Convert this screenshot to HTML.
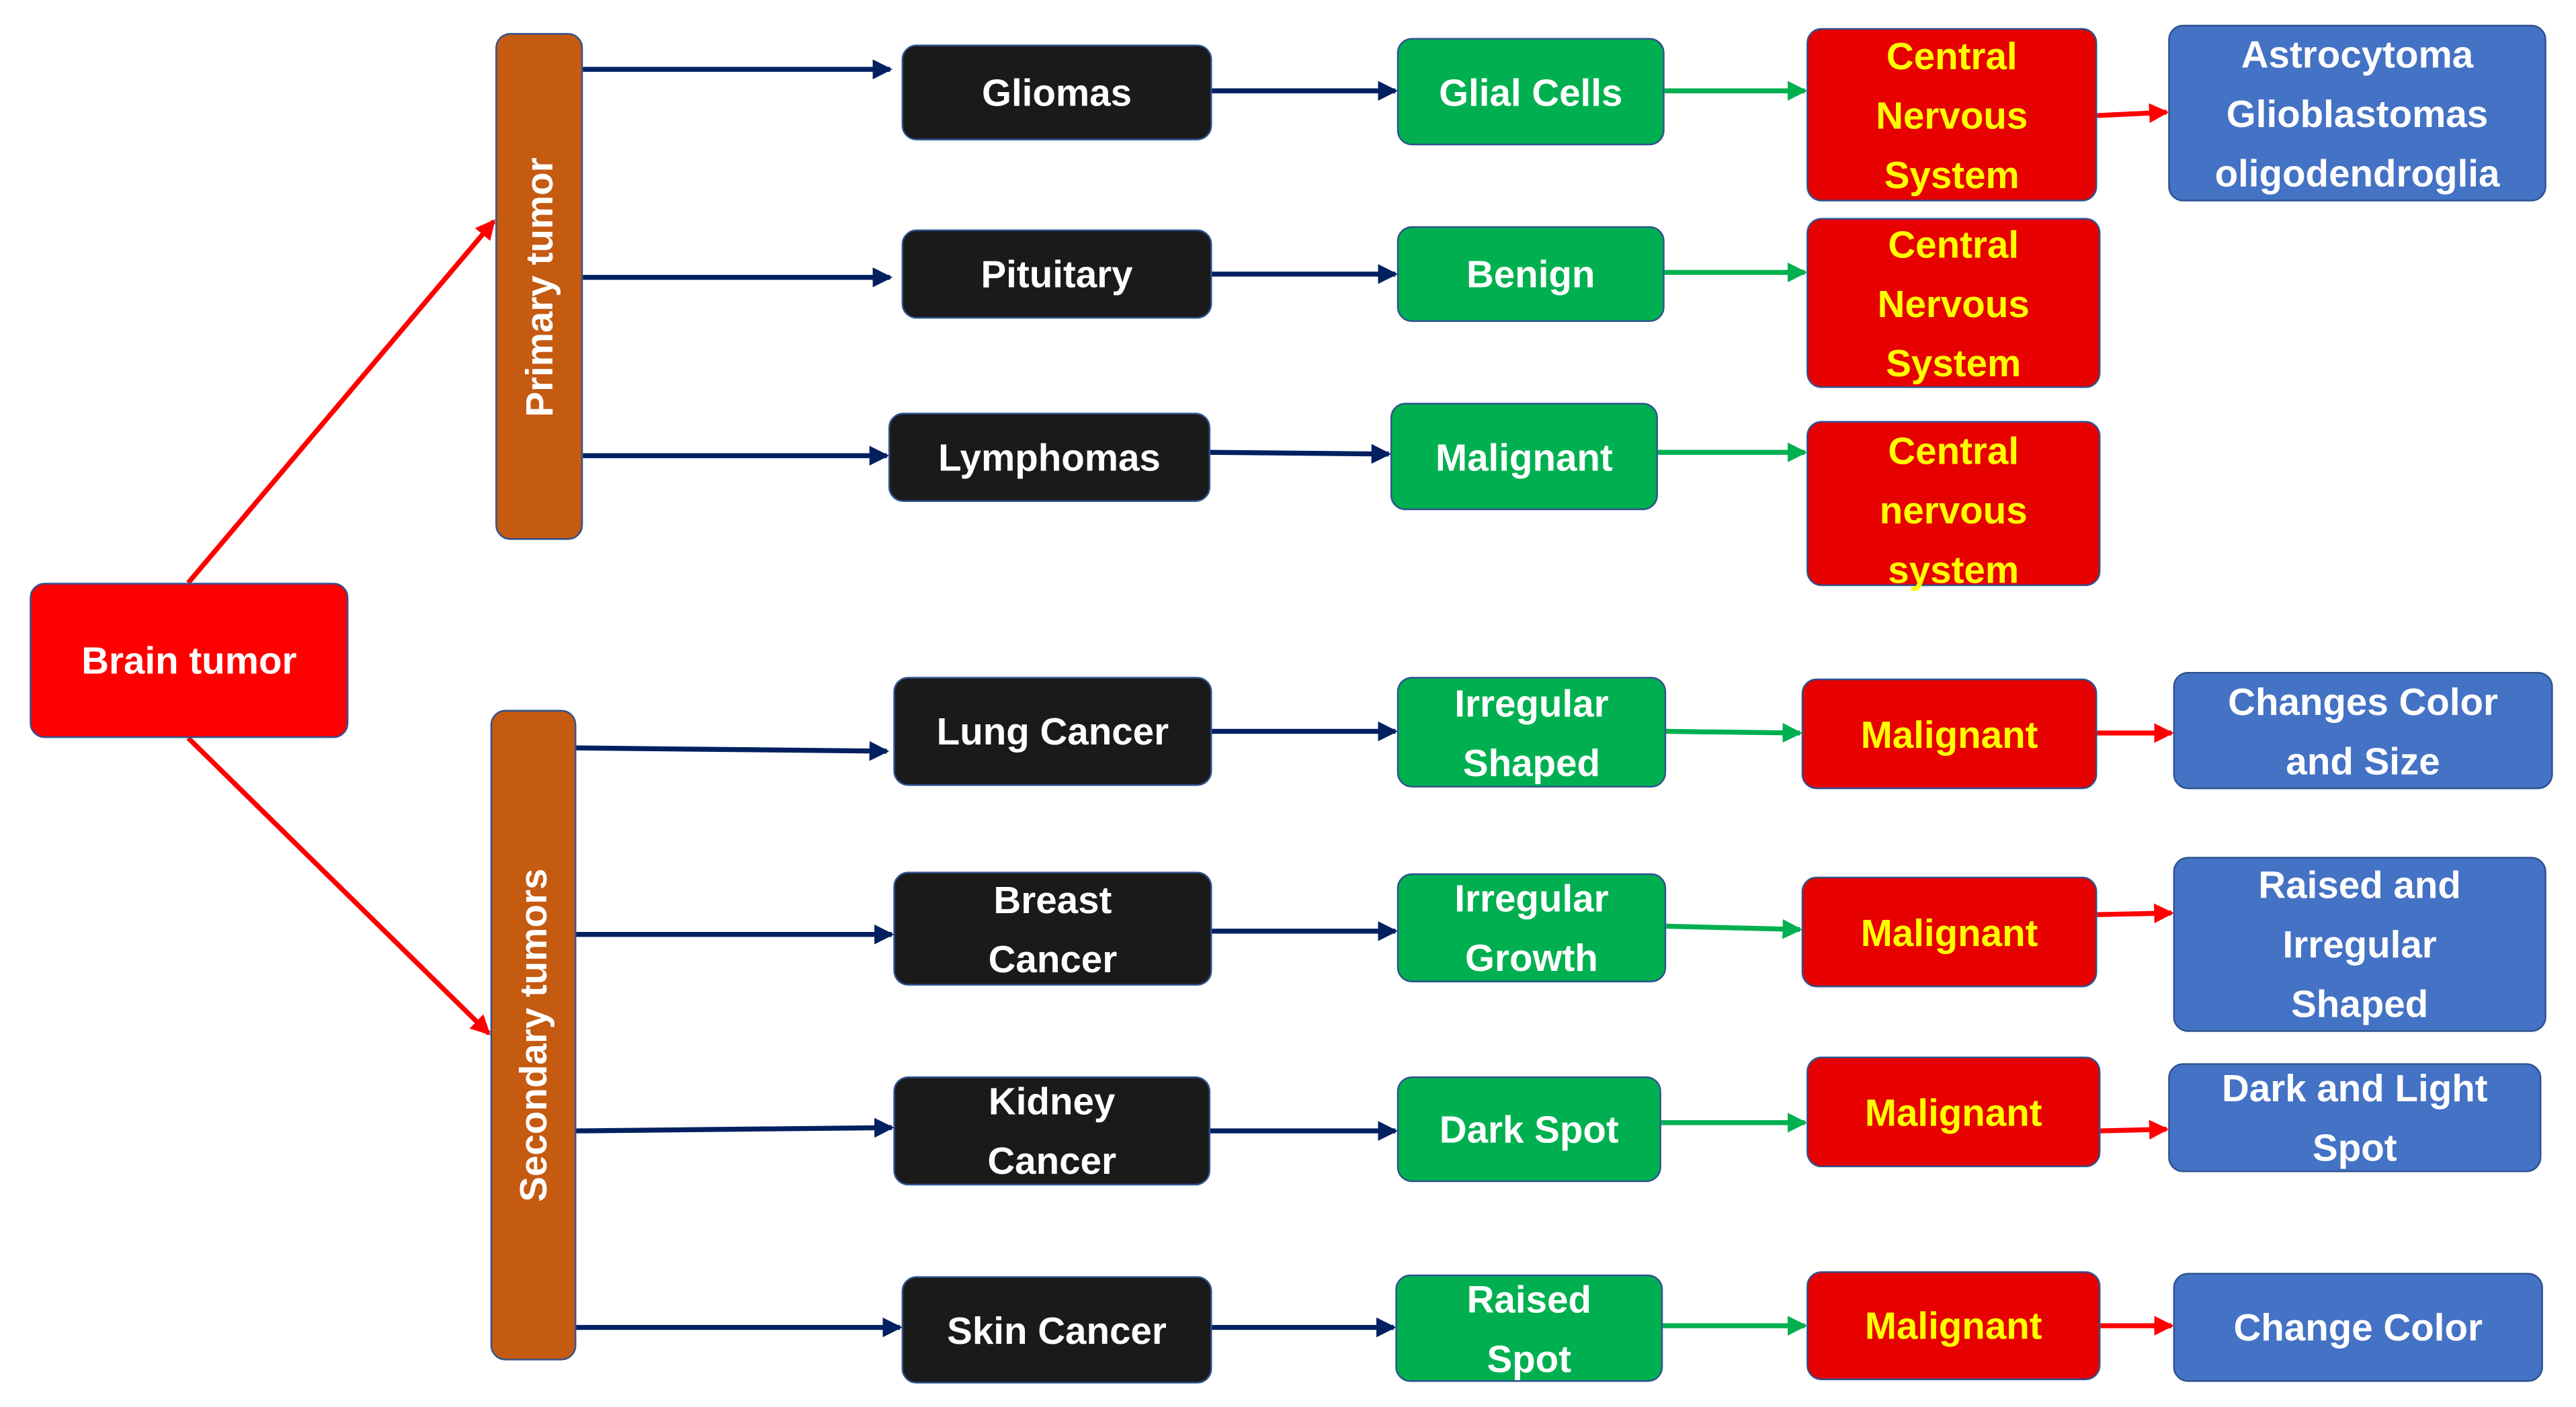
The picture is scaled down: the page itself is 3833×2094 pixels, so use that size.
<!DOCTYPE html>
<html><head><meta charset="utf-8"><style>
html,body{margin:0;padding:0;background:#fff;}
body{width:3833px;height:2094px;overflow:hidden;position:relative;}
#c{position:absolute;left:0;top:0;width:1560px;height:852px;transform:scale(2.4571);transform-origin:0 0;font-family:"Liberation Sans",sans-serif;font-weight:bold;}
.b{position:absolute;box-sizing:border-box;border:1px solid #2f528f;border-radius:9px;display:flex;align-items:center;justify-content:center;text-align:center;font-size:23px;line-height:36px;color:#fff;}
.k{background:#1a1a1a;}
.g{background:#00b050;}
.r{background:#e60000;color:#ffff00;}
.bl{background:#4472c4;}
.o{background:#c55a11;}
svg{position:absolute;left:0;top:0;}
</style></head><body><div id="c">
<svg width="1560" height="852" viewBox="0 0 1560 852">
<defs>
<marker id="mn" markerWidth="4" markerHeight="4" refX="3.5" refY="2" orient="auto" markerUnits="strokeWidth"><path d="M0,0 L4,2 L0,4 z" fill="#002060"/></marker>
<marker id="mg" markerWidth="4" markerHeight="4" refX="3.5" refY="2" orient="auto" markerUnits="strokeWidth"><path d="M0,0 L4,2 L0,4 z" fill="#00b050"/></marker>
<marker id="mr" markerWidth="4" markerHeight="4" refX="3.5" refY="2" orient="auto" markerUnits="strokeWidth"><path d="M0,0 L4,2 L0,4 z" fill="#ff0000"/></marker>
</defs>
<g stroke="#ff0000" stroke-width="3" marker-end="url(#mr)">
<line x1="114" y1="353" x2="299" y2="134"/>
<line x1="114" y1="447" x2="296" y2="626"/>
</g>
<g stroke="#002060" stroke-width="3" marker-end="url(#mn)">
<line x1="353" y1="42" x2="539" y2="42"/>
<line x1="353" y1="168" x2="539" y2="168"/>
<line x1="353" y1="276" x2="537" y2="276"/>
<line x1="349" y1="453" x2="537" y2="455"/>
<line x1="349" y1="566" x2="540" y2="566"/>
<line x1="349" y1="685" x2="540" y2="683"/>
<line x1="349" y1="804" x2="545" y2="804"/>
<line x1="734" y1="55" x2="845" y2="55"/>
<line x1="734" y1="166" x2="845" y2="166"/>
<line x1="733" y1="274" x2="841" y2="275"/>
<line x1="734" y1="443" x2="845" y2="443"/>
<line x1="734" y1="564" x2="845" y2="564"/>
<line x1="733" y1="685" x2="845" y2="685"/>
<line x1="734" y1="804" x2="844" y2="804"/>
</g>
<g stroke="#00b050" stroke-width="3" marker-end="url(#mg)">
<line x1="1008" y1="55" x2="1093" y2="55"/>
<line x1="1008" y1="165" x2="1093" y2="165"/>
<line x1="1004" y1="274" x2="1093" y2="274"/>
<line x1="1009" y1="443" x2="1090" y2="444"/>
<line x1="1009" y1="561" x2="1090" y2="563"/>
<line x1="1006" y1="680" x2="1093" y2="680"/>
<line x1="1007" y1="803" x2="1093" y2="803"/>
</g>
<g stroke="#ff0000" stroke-width="3" marker-end="url(#mr)">
<line x1="1270" y1="70" x2="1312" y2="68"/>
<line x1="1270" y1="444" x2="1315" y2="444"/>
<line x1="1270" y1="554" x2="1315" y2="553"/>
<line x1="1272" y1="685" x2="1312" y2="684"/>
<line x1="1272" y1="803" x2="1315" y2="803"/>
</g>
</svg>
<div class="b" style="left:18px;top:353px;width:193px;height:94px;background:#ff0000;color:#fff;">Brain tumor</div>
<div class="b o" style="left:300px;top:20px;width:53px;height:307px;"><span style="display:inline-block;transform:rotate(-90deg);white-space:nowrap;">Primary tumor</span></div>
<div class="b o" style="left:297px;top:430px;width:52px;height:394px;"><span style="display:inline-block;transform:rotate(-90deg);white-space:nowrap;">Secondary tumors</span></div>

<div class="b k" style="left:546px;top:27px;width:188px;height:58px;">Gliomas</div>
<div class="b g" style="left:846px;top:23px;width:162px;height:65px;">Glial Cells</div>
<div class="b r" style="left:1094px;top:17px;width:176px;height:105px;">Central<br>Nervous<br>System</div>
<div class="b bl" style="left:1313px;top:15px;width:229px;height:107px;">Astrocytoma<br>Glioblastomas<br>oligodendroglia</div>

<div class="b k" style="left:546px;top:139px;width:188px;height:54px;">Pituitary</div>
<div class="b g" style="left:846px;top:137px;width:162px;height:58px;">Benign</div>
<div class="b r" style="left:1094px;top:132px;width:178px;height:103px;">Central<br>Nervous<br>System</div>

<div class="b k" style="left:538px;top:250px;width:195px;height:54px;">Lymphomas</div>
<div class="b g" style="left:842px;top:244px;width:162px;height:65px;">Malignant</div>
<div class="b r" style="left:1094px;top:255px;width:178px;height:100px;padding-top:8px;">Central<br>nervous<br>system</div>

<div class="b k" style="left:541px;top:410px;width:193px;height:66px;">Lung Cancer</div>
<div class="b g" style="left:846px;top:410px;width:163px;height:67px;">Irregular<br>Shaped</div>
<div class="b r" style="left:1091px;top:411px;width:179px;height:67px;">Malignant</div>
<div class="b bl" style="left:1316px;top:407px;width:230px;height:71px;">Changes Color<br>and Size</div>

<div class="b k" style="left:541px;top:528px;width:193px;height:69px;">Breast<br>Cancer</div>
<div class="b g" style="left:846px;top:529px;width:163px;height:66px;">Irregular<br>Growth</div>
<div class="b r" style="left:1091px;top:531px;width:179px;height:67px;">Malignant</div>
<div class="b bl" style="left:1316px;top:519px;width:226px;height:106px;">Raised and<br>Irregular<br>Shaped</div>

<div class="b k" style="left:541px;top:652px;width:192px;height:66px;">Kidney<br>Cancer</div>
<div class="b g" style="left:846px;top:652px;width:160px;height:64px;">Dark Spot</div>
<div class="b r" style="left:1094px;top:640px;width:178px;height:67px;">Malignant</div>
<div class="b bl" style="left:1313px;top:644px;width:226px;height:66px;">Dark and Light<br>Spot</div>

<div class="b k" style="left:546px;top:773px;width:188px;height:65px;">Skin Cancer</div>
<div class="b g" style="left:845px;top:772px;width:162px;height:65px;">Raised<br>Spot</div>
<div class="b r" style="left:1094px;top:770px;width:178px;height:66px;">Malignant</div>
<div class="b bl" style="left:1316px;top:771px;width:224px;height:66px;">Change Color</div>
</div></body></html>
